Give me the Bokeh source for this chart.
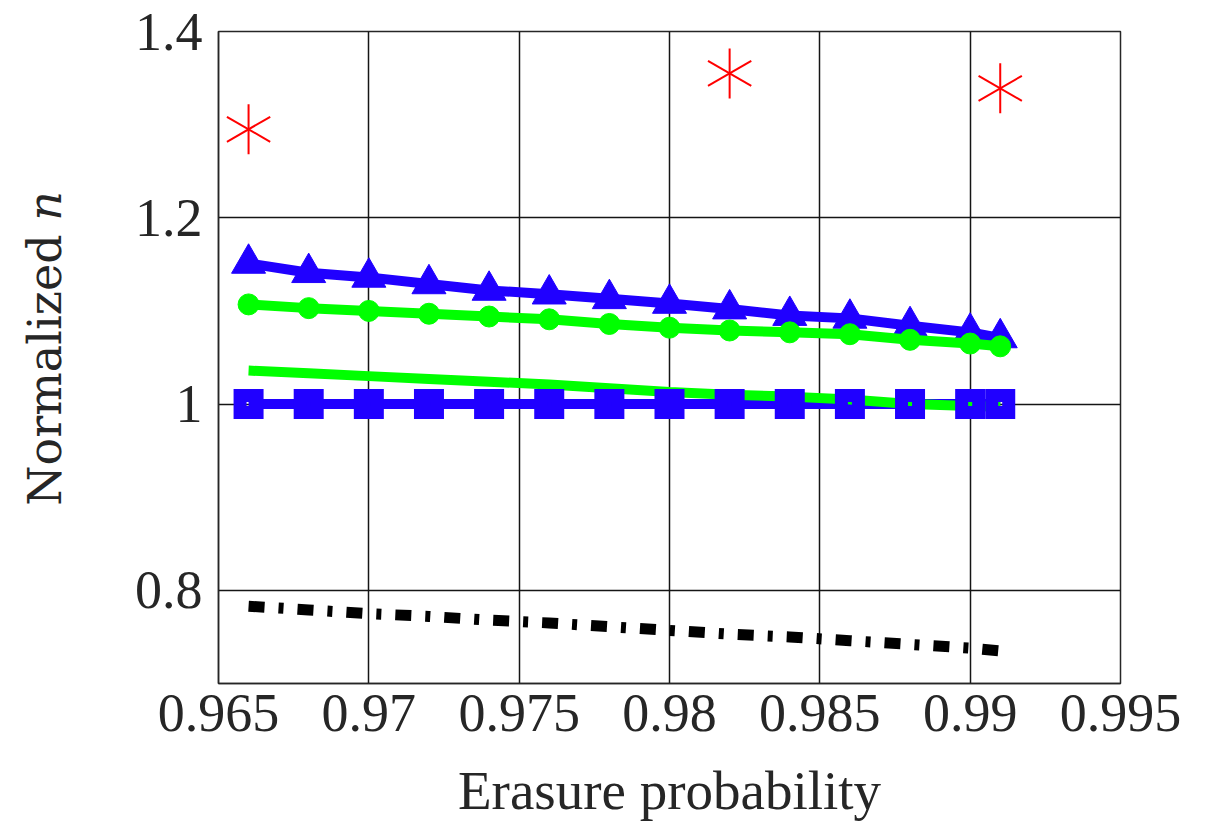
import math
from bokeh.plotting import figure
from bokeh.models import FixedTicker, Label, Range1d
from bokeh.embed import file_html
from bokeh.resources import INLINE

# ---- data ----
x_main = [0.966, 0.968, 0.970, 0.972, 0.974, 0.976, 0.978, 0.980, 0.982, 0.984, 0.986, 0.988, 0.990, 0.991]
y_triangle = [1.151, 1.141, 1.136, 1.129, 1.122, 1.118, 1.113, 1.108, 1.102, 1.095, 1.092, 1.084, 1.077, 1.071]
y_circle = [1.107, 1.103, 1.100, 1.097, 1.094, 1.091, 1.086, 1.082, 1.079, 1.077, 1.075, 1.069, 1.065, 1.062]
y_green_line = [1.036, 1.033, 1.030, 1.027, 1.024, 1.021, 1.017, 1.013, 1.010, 1.008, 1.005, 1.000, 0.998, 0.997]
y_square = [1.0, 1.0, 1.0, 1.0, 1.0, 1.0, 1.0, 1.0, 1.0, 1.0, 1.0, 1.0, 1.0, 1.0]
y_black = [0.783, 0.779, 0.775, 0.772, 0.768, 0.765, 0.761, 0.757, 0.753, 0.750, 0.746, 0.742, 0.738, 0.735]
x_star = [0.966, 0.982, 0.991]
y_star = [1.295, 1.355, 1.339]

x_ticks = [0.965, 0.97, 0.975, 0.98, 0.985, 0.99, 0.995]
x_tick_labels = ["0.965", "0.97", "0.975", "0.98", "0.985", "0.99", "0.995"]
y_ticks = [0.8, 1.0, 1.2, 1.4]
y_tick_labels = ["0.8", "1", "1.2", "1.4"]

BLUE = "#2000ff"
GREEN = "#00ff00"
RED = "#ff0000"
FONT = "Liberation Serif"

p = figure(width=1205, height=825, output_backend="svg", toolbar_location=None,
           x_range=Range1d(0.965, 0.995), y_range=Range1d(0.7, 1.4),
           min_border_left=218, min_border_right=85, min_border_top=31, min_border_bottom=142)
p.background_fill_color = "white"
p.border_fill_color = "white"
p.outline_line_color = "#262626"
p.outline_line_width = 1.5

for ax, ticks, labels in ((p.xaxis[0], x_ticks, x_tick_labels), (p.yaxis[0], y_ticks, y_tick_labels)):
    ax.ticker = FixedTicker(ticks=ticks)
    ax.major_label_overrides = {t: l for t, l in zip(ticks, labels)}
    ax.major_label_text_font = FONT
    ax.major_label_text_font_size = "54px"
    ax.major_label_text_color = "#262626"
    ax.major_tick_in = 0
    ax.major_tick_out = 0
    ax.minor_tick_in = 0
    ax.minor_tick_out = 0
    ax.axis_line_color = "#262626"
    ax.axis_line_width = 1.5
p.xaxis.major_label_standoff = 11
p.yaxis.major_label_standoff = 16

p.xgrid.ticker = FixedTicker(ticks=x_ticks)
p.ygrid.ticker = FixedTicker(ticks=y_ticks)
p.grid.grid_line_color = "#151515"
p.grid.grid_line_width = 1.5
p.grid.grid_line_alpha = 1.0

# triangle series
p.line(x_main, y_triangle, line_color=BLUE, line_width=10)
p.scatter(x_main, y_triangle, marker="triangle", size=34, fill_color=BLUE, line_color=BLUE, line_width=1)

# circle series
p.line(x_main, y_circle, line_color=GREEN, line_width=10)
p.scatter(x_main, y_circle, marker="circle", size=21, fill_color=GREEN, line_color=GREEN, line_width=1)

# square series line, green plain line, then square markers
p.line(x_main, y_square, line_color=BLUE, line_width=10)
p.line(x_main, y_green_line, line_color=GREEN, line_width=10)
p.scatter(x_main, y_square, marker="square", size=17, fill_alpha=0, line_color=BLUE, line_width=13,
          line_join="miter")

# dash-dot black
p.line(x_main, y_black, line_color="black", line_width=11, line_dash="16 14 5 14", line_cap="butt")

# red asterisks (three strokes)
for ang in (math.pi / 2, math.pi / 6, -math.pi / 6):
    p.scatter(x_star, y_star, marker="dash", size=50, angle=ang, line_color=RED, line_width=2)

# x-axis title, in the bottom side panel
p.add_layout(Label(x=0.98, y=0.5852, x_units="data", y_units="data", text="Erasure probability",
                   text_font=FONT, text_font_size="55px", text_color="#262626",
                   text_align="center", text_baseline="alphabetic"), "below")

# y-axis title (two parts so that n is italic), in the left side panel
YFONT = "DejaVu Serif"
p.add_layout(Label(x=0.95922, y=0.8909, x_units="data", y_units="data", text="Normalized",
                   angle=math.pi / 2, text_font=YFONT, text_font_size="46px", text_color="#262626",
                   text_align="left", text_baseline="alphabetic"), "left")
p.add_layout(Label(x=0.95922, y=1.2287, x_units="data", y_units="data", text="n",
                   angle=math.pi / 2, text_font=YFONT, text_font_size="46px", text_font_style="italic",
                   text_color="#262626", text_align="right", text_baseline="alphabetic"), "left")

open("out.html", "w").write(file_html(p, INLINE))
